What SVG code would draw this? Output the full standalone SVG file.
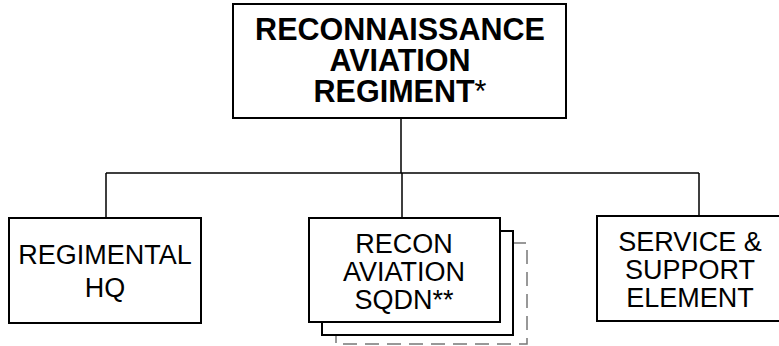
<svg xmlns="http://www.w3.org/2000/svg" width="779" height="346" viewBox="0 0 779 346">
<style>
.box{fill:#fff;stroke:#000;stroke-width:2}
.ghost{fill:#fff;stroke:#777;stroke-width:1.5;stroke-dasharray:14 8}
.conn{fill:none;stroke:#000;stroke-width:1.5}
.t{font-family:"Liberation Sans",Arial,sans-serif;font-size:27px;text-anchor:middle;fill:#000}
.tb{font-family:"Liberation Sans",Arial,sans-serif;font-size:30.5px;font-weight:bold;text-anchor:middle;fill:#000}
</style>
<rect width="779" height="346" fill="#fff"/>
<g id="connectors">
<path class="conn" d="M401 118V173M106 173H699M106 173V218M402 173V218M699 173V216"/>
</g>
<g id="regiment">
<rect class="box" x="233" y="4" width="333" height="114"/>
<text class="tb" x="400" y="40">RECONNAISSANCE</text>
<text class="tb" x="400" y="71">AVIATION</text>
<text class="tb" x="400" y="102">REGIMENT<tspan font-weight="normal">*</tspan></text>
</g>
<g id="hq">
<rect class="box" x="9" y="218" width="192" height="105"/>
<text class="t" x="105" y="264">REGIMENTAL</text>
<text class="t" x="105" y="297">HQ</text>
</g>
<g id="sqdn">
<rect class="ghost" x="336" y="243" width="191" height="101"/>
<rect class="box" x="322" y="231" width="191" height="104"/>
<rect class="box" x="309" y="218" width="191" height="104"/>
<text class="t" x="404" y="253">RECON</text>
<text class="t" x="404" y="281">AVIATION</text>
<text class="t" x="404" y="309">SQDN**</text>
</g>
<g id="service">
<rect class="box" x="597" y="216" width="186" height="105"/>
<text class="t" x="690" y="251">SERVICE &amp;</text>
<text class="t" x="690" y="279">SUPPORT</text>
<text class="t" x="690" y="307">ELEMENT</text>
</g>
</svg>
